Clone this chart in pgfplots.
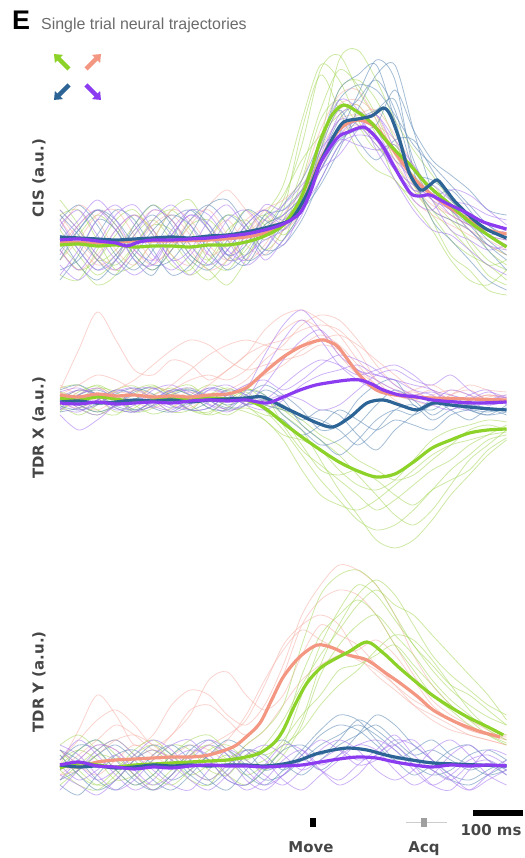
\documentclass[border=0pt]{standalone}
\usepackage{pgfplots}
\pgfplotsset{compat=1.18}
\usepackage{pgfplotstable}
\usetikzlibrary{arrows.meta}
\usepackage{fontspec}
\setmainfont{DejaVu Sans}
\newfontfamily\lib{Liberation Sans}
\definecolor{cg}{RGB}{140,210,40}
\definecolor{ck}{RGB}{243,150,130}
\definecolor{cb}{RGB}{45,100,150}
\definecolor{cp}{RGB}{140,60,240}
\definecolor{fg}{RGB}{165,215,90}
\definecolor{fk}{RGB}{245,175,165}
\definecolor{fb}{RGB}{90,135,180}
\definecolor{fp}{RGB}{165,115,240}
\definecolor{lab}{RGB}{70,70,70}
\pgfplotsset{
  faint/.style={smooth, line width=0.8bp, opacity=0.55, forget plot},
  mean/.style={smooth, line width=3.2bp, forget plot},
  panel/.style={scale only axis, width=447bp, xmin=0, xmax=961, hide axis, clip=false, anchor=south west}
}
% ---------------- CIS ----------------
\pgfplotstableread{
t a b c d e f g h
0 -20 10 -35 25 -5 40 30 -10
40 5 -15 -40 30 -25 15 10 -30
80 25 -35 -10 0 -45 -20 -15 -20
120 10 -20 20 -30 -35 -10 -25 5
160 -15 5 30 -25 -5 15 -5 25
200 -30 20 5 0 15 35 20 10
240 -10 0 -25 30 10 20 30 -15
280 15 -25 -30 40 -15 -5 10 -35
320 20 -40 0 10 -30 -20 -20 -20
360 0 -20 25 -20 -45 5 -30 10
400 -15 10 15 -10 -20 30 -5 20
440 10 25 -10 20 15 15 25 0
480 40 5 10 45 30 0 55 20
520 95 30 60 80 110 50 120 70
560 170 90 120 105 165 100 175 130
600 185 150 140 125 130 180 160 170
640 150 160 115 135 90 190 120 155
680 120 140 90 105 70 160 95 125
720 80 100 95 60 60 120 75 85
760 70 55 60 45 35 90 50 65
800 40 30 20 55 10 65 25 45
840 20 10 -15 30 -20 40 0 30
880 0 -10 -30 -5 -40 20 -15 10
920 -20 -35 -50 -25 -45 -10 -25 -5
960 -30 -45 -55 -20 -30 -25 -40 -15
}\cisG
\pgfplotstableread{
t a b c d e f g h
0 15 -30 20 -10 5 -40 25 -20
40 -10 -20 35 10 -25 -15 5 10
80 -30 5 15 30 -40 20 -20 30
120 -15 30 -15 20 -20 10 -35 15
160 10 20 -30 -5 15 -20 -15 -15
200 25 -10 -10 -25 35 -35 10 -30
240 5 -35 20 -20 15 0 25 -10
280 -20 -25 30 5 -15 30 15 20
320 -30 5 10 35 -25 15 -10 35
360 -10 25 -15 40 0 -15 -30 15
400 15 10 -25 15 30 -5 -15 -20
440 30 -15 5 -10 20 25 15 -10
480 20 0 35 -5 10 30 25 15
520 40 30 60 20 35 50 45 30
560 80 70 100 60 90 70 95 55
600 120 100 150 95 130 105 140 90
640 140 110 165 120 100 145 155 130
680 160 115 175 130 80 180 150 165
720 130 150 120 140 100 160 125 175
760 70 110 60 80 100 70 95 110
800 60 80 30 45 70 20 75 50
840 45 65 20 50 40 0 55 30
880 20 50 10 30 25 -20 35 15
920 0 30 -10 5 15 -40 15 -5
960 -15 25 -30 -5 0 -50 5 -20
}\cisB
\pgfplotstableread{
t a b c d e f g h
0 0 -25 30 -10 15 -35 20 -15
40 20 -40 10 -30 30 -10 -10 15
80 40 -20 -15 -5 5 20 -30 30
120 20 10 -30 25 -20 35 -20 10
160 -10 25 -10 35 -35 15 5 -20
200 -20 5 20 10 -20 -15 30 -25
240 5 -20 35 -20 10 -30 20 5
280 25 -35 15 -10 30 -15 -5 25
320 15 -10 -15 20 25 5 -25 10
360 -10 20 -25 35 0 -15 -10 -20
400 -20 30 0 10 -25 5 15 -15
440 10 10 20 -20 -10 35 30 0
480 25 -5 35 0 20 30 15 10
520 45 30 55 25 40 50 35 35
560 90 60 80 75 70 100 70 85
600 110 95 125 100 85 140 105 120
640 120 105 130 95 110 130 120 115
680 100 100 110 90 125 90 125 95
720 70 80 75 95 90 60 100 70
760 50 60 40 70 50 30 75 55
800 45 40 30 40 55 10 50 45
840 30 30 50 10 40 5 35 25
880 25 10 45 0 35 -10 20 15
920 15 -5 30 -10 25 -25 5 5
960 10 -10 15 -5 20 -35 0 10
}\cisP
\pgfplotstableread{
t a b c d e f
0 10 -20 20 -10 -5 25
40 35 0 -5 -30 15 0
80 20 25 -25 -15 30 -20
120 -10 30 -15 10 15 -30
160 -25 5 10 25 -10 -10
200 0 -20 30 10 -25 15
240 30 -10 20 -15 -5 25
280 20 15 -10 -25 20 5
320 -5 35 -30 0 30 -15
360 -20 50 -20 20 5 -5
400 5 30 5 -5 -20 20
440 30 10 20 -15 -5 30
480 40 20 15 10 25 10
520 60 40 45 35 50 30
560 110 90 80 100 95 70
600 145 120 105 135 130 110
640 150 125 115 140 135 125
680 120 115 100 125 110 130
720 80 100 70 90 85 105
760 50 70 40 60 55 75
800 30 50 25 40 35 45
840 20 35 15 25 25 30
880 10 20 5 15 15 20
920 0 5 -5 10 5 10
960 -10 0 -15 5 -5 0
}\cisK
% ---------------- TDR X ----------------
\pgfplotstableread{
t a b c d e f g h
0 5 -10 12 -5 8 -12 -5 8
40 -8 0 15 -15 2 5 8 -4
80 -15 12 2 -5 -10 15 14 -12
120 -5 8 -12 10 -15 5 2 -6
160 10 -5 -8 14 0 -10 -12 6
200 15 -14 5 0 12 -5 -8 14
240 3 -8 12 -12 8 10 6 4
280 -10 5 4 -10 -5 15 12 -10
320 -12 15 -8 5 -15 0 4 -14
360 0 10 -15 12 -8 -10 -6 2
400 8 -5 -5 3 10 -8 -12 12
440 -10 -20 0 -5 5 -15 -20 0
480 -30 -35 -15 -10 -25 -20 -40 -10
520 -55 -40 -30 -20 -50 -45 -70 -25
560 -80 -50 -60 -35 -65 -70 -95 -40
600 -100 -70 -90 -45 -80 -75 -105 -55
640 -120 -85 -115 -60 -95 -70 -110 -75
680 -130 -90 -140 -70 -110 -80 -100 -95
720 -125 -80 -148 -80 -100 -95 -85 -115
760 -110 -60 -140 -75 -85 -105 -70 -125
800 -90 -40 -120 -60 -70 -90 -55 -110
840 -70 -30 -95 -45 -60 -80 -45 -85
880 -55 -25 -75 -30 -45 -70 -40 -60
920 -40 -20 -55 -25 -35 -50 -35 -45
960 -35 -22 -40 -30 -25 -38 -32 -30
}\txG
\pgfplotstableread{
t a b c d e f g
0 10 0 8 15 -5 5 -3
40 50 10 -5 5 5 15 -8
80 88 5 -10 0 12 25 0
120 60 -5 0 10 5 20 8
160 30 0 10 20 -2 10 5
200 25 12 5 35 -8 5 0
240 40 8 -5 50 0 15 10
280 35 3 -8 60 8 30 20
320 20 15 5 55 3 45 25
360 30 30 10 40 5 55 20
400 45 45 20 30 15 60 30
440 55 70 40 35 25 55 50
480 60 85 55 40 35 50 70
520 70 90 75 45 50 55 80
560 75 80 85 55 60 65 70
600 70 65 80 50 65 55 45
640 50 40 60 30 55 35 25
680 20 20 35 15 40 15 10
720 5 10 15 0 25 5 5
760 10 0 5 -10 10 0 8
800 15 -5 10 -5 0 5 0
840 5 5 0 5 -5 10 -5
880 0 10 -5 15 0 5 0
920 5 0 3 10 5 0 5
960 2 -3 5 8 0 3 2
}\txK
\pgfplotstableread{
t a b c d e f g
0 -10 5 -15 8 0 3 -8
40 5 -8 -30 12 -10 10 -12
80 12 -15 -20 2 -5 5 0
120 0 -5 -5 -10 8 -8 10
160 -12 10 5 -5 12 -12 6
200 -5 12 0 10 0 0 -6
240 8 0 -8 15 -12 10 -10
280 12 -10 -3 5 -5 8 2
320 0 -8 10 -5 10 -4 12
360 -10 5 5 -12 15 -8 6
400 -5 15 -5 0 5 10 -4
440 15 20 -10 30 0 45 0
480 40 10 0 60 5 75 15
520 60 20 15 80 0 90 30
560 70 35 25 60 -10 70 40
600 50 45 30 35 -5 45 35
640 30 40 35 20 10 30 25
680 25 30 25 10 25 20 30
720 20 15 20 5 30 10 35
760 10 5 15 0 20 5 25
800 5 0 10 -5 15 8 10
840 -5 10 -5 -10 25 0 5
880 5 5 -10 0 10 -5 0
920 10 -5 0 8 0 0 -5
960 -5 0 5 2 -3 3 -2
}\txP
\pgfplotstableread{
t a b c d e f
0 5 -8 10 -12 0 -6
40 -5 5 15 -8 10 -10
80 -12 10 5 0 6 -4
120 -5 2 -8 10 -6 6
160 8 -10 -12 5 -10 12
200 12 -6 0 -8 -2 6
240 2 5 10 -12 8 -6
280 -10 10 5 0 10 -10
320 -8 3 -8 12 0 -2
360 5 -5 -10 8 -8 10
400 10 0 5 -5 -5 5
440 5 -5 15 0 10 -10
480 -15 -10 5 -5 0 -20
520 -30 -15 -10 -20 -25 -35
560 -45 -20 -30 -10 -40 -25
600 -40 -30 -25 -15 -55 -10
640 -25 -45 0 -35 -40 -20
680 -5 -30 15 -50 -20 -30
720 10 -10 20 -30 -10 -20
760 0 -5 -5 -15 -15 -25
800 -15 -20 -10 0 -5 -30
840 -5 -10 0 -10 0 -15
880 -10 -5 -10 -20 -5 -10
920 -15 -8 -15 -10 -10 -12
960 -12 -10 -5 -15 -8 -8
}\txB
% ---------------- TDR Y ----------------
\pgfplotstableread{
t a b c d e f g h
0 10 -15 20 -5 5 -20 0 15
40 -10 0 30 -20 15 -5 15 -5
80 -20 15 15 -25 5 10 25 -20
120 -5 25 -5 -10 -15 5 10 -15
160 15 10 -20 10 -10 -10 -10 5
200 25 -10 -10 20 5 -25 -20 15
240 10 -20 10 5 20 -10 -5 0
280 -5 -5 25 -10 15 10 10 -15
320 -15 15 30 0 -5 20 5 -20
360 0 20 15 10 -10 5 -10 5
400 20 5 5 0 10 -10 -20 15
440 35 -5 20 5 15 0 -5 10
480 60 10 45 25 35 15 20 20
520 120 40 80 50 90 45 70 35
560 170 90 110 70 130 100 120 60
600 190 120 135 95 150 140 155 80
640 195 140 160 100 165 170 180 95
680 180 150 175 110 150 185 170 115
720 150 130 160 120 120 170 145 130
760 120 110 150 100 95 140 120 125
800 100 85 130 80 70 110 95 105
840 80 65 110 60 55 90 75 80
880 70 50 90 45 40 75 60 55
920 55 35 70 30 30 60 48 38
960 40 25 45 20 22 50 40 30
}\tyG
\pgfplotstableread{
t a b c d e f
0 0 -10 15 -5 5 -10
40 35 5 0 10 25 -5
80 70 20 -10 25 45 10
120 50 15 5 40 55 25
160 20 0 20 30 40 30
200 30 10 10 15 20 20
240 60 30 0 10 30 5
280 75 50 10 20 55 0
320 70 85 20 15 60 10
360 50 93 30 5 45 25
400 40 70 45 20 30 50
440 60 55 80 35 50 85
480 100 70 120 60 90 115
520 150 110 140 85 140 135
560 180 140 150 100 165 125
600 200 130 140 110 175 115
640 195 120 110 115 170 105
680 180 100 90 125 150 95
720 150 80 75 110 120 80
760 110 60 60 85 90 65
800 80 45 50 60 65 55
840 60 35 40 45 50 45
880 45 30 30 35 40 35
920 35 25 25 30 30 30
960 25 20 20 30 25 28
}\tyK
\pgfplotstableread{
t a b c d e f
0 10 -15 5 -20 -5 15
40 -10 -5 20 -30 15 5
80 -25 10 15 -10 25 -15
120 -15 20 -5 10 5 -25
160 5 5 -20 15 -15 -10
200 20 -15 -10 0 -25 10
240 10 -25 10 -15 -10 20
280 -10 -10 20 -5 15 5
320 -20 10 5 10 25 -15
360 -5 15 -15 25 10 -25
400 15 0 -20 15 -10 -5
440 10 -15 -5 -5 -20 15
480 -5 -10 15 0 -5 25
520 10 5 20 -10 15 10
560 30 20 10 5 35 -5
600 40 30 25 20 50 10
640 35 40 45 30 45 30
680 20 30 35 40 25 50
720 5 15 20 25 5 40
760 15 0 5 10 -10 20
800 25 -10 -5 15 0 5
840 10 -5 -15 5 15 -10
880 0 10 -20 -5 20 -15
920 -10 15 -10 0 5 -5
960 -5 5 0 -10 -5 5
}\tyB
\pgfplotstableread{
t a b c d e f g
0 5 -10 15 -25 0 -15 20
40 25 -20 0 -5 -15 5 10
80 10 -30 -15 15 -5 20 -10
120 -10 -15 -5 25 10 15 -25
160 -25 5 10 10 -10 -5 -15
200 -15 15 25 -5 -25 -20 5
240 5 5 15 -20 -15 -10 20
280 15 -15 -5 -25 5 10 25
320 10 -25 -15 -5 20 25 5
360 -10 -10 0 15 10 15 -15
400 -25 10 15 5 -15 -5 -20
440 -15 20 5 -10 -25 -20 0
480 5 10 -15 -20 -10 -10 20
520 15 -5 -25 -5 5 10 15
560 0 5 -10 15 -5 25 -5
600 10 15 5 25 -15 15 -20
640 20 5 20 15 0 0 -10
680 25 10 15 -5 15 5 10
720 15 25 -5 -15 30 20 20
760 -5 20 -20 -5 10 25 0
800 -20 5 -10 15 -5 5 -20
840 -10 -10 10 25 -15 -15 -25
880 5 -25 20 10 0 -25 -5
920 10 -15 5 -10 5 -10 15
960 0 -5 -10 -20 -5 5 10
}\tyP
\begin{document}
\begin{tikzpicture}
\path[use as bounding box] (0,0) rectangle (525bp,858bp);
% ---------- CIS panel ----------
\begin{axis}[panel, at={(60bp,558bp)}, height=255bp, ymin=-60, ymax=195]
\pgfplotsinvokeforeach{a,b,c,d,e,f,g,h}{\addplot[faint, fg] table[x=t,y=#1]{\cisG};}
\pgfplotsinvokeforeach{a,b,c,d,e,f}{\addplot[faint, fk] table[x=t,y=#1]{\cisK};}
\pgfplotsinvokeforeach{a,b,c,d,e,f,g,h}{\addplot[faint, fb] table[x=t,y=#1]{\cisB};}
\pgfplotsinvokeforeach{a,b,c,d,e,f,g,h}{\addplot[faint, fp] table[x=t,y=#1]{\cisP};}
\addplot[mean, ck] coordinates {(0,-2)(80,-3)(160,-1)(240,-1)(320,0)(400,3)(440,7)(480,15)(520,35)(560,80)(600,110)(640,120)(680,112)(720,88)(760,62)(800,45)(840,32)(880,20)(920,10)(960,6)};
\addplot[mean, cg] coordinates {(0,-5)(40,-4)(80,-6)(120,-5)(160,-7)(200,-6)(240,-6)(280,-7)(320,-5)(360,-5)(400,-2)(440,4)(480,15)(516,40)(540,70)(560,100)(585,125)(610,135)(640,128)(670,117)(700,100)(730,85)(753,75)(780,60)(802,50)(840,35)(875,20)(920,5)(960,-7)};
\addplot[mean, cb] coordinates {(0,3)(40,2)(80,1)(120,0)(160,1)(200,2)(240,3)(280,2)(320,4)(360,5)(400,8)(440,12)(480,17)(500,22)(530,45)(560,78)(590,105)(610,118)(640,121)(670,124)(695,132)(710,125)(730,100)(750,68)(775,50)(795,55)(811,60)(830,50)(850,38)(890,20)(920,10)(960,2)};
\addplot[mean, cp] coordinates {(0,0)(40,1)(80,-1)(120,-3)(144,-6)(170,-2)(200,0)(240,0)(280,1)(320,2)(360,4)(400,6)(440,10)(480,16)(516,27)(540,50)(560,77)(596,102)(620,108)(652,113)(675,105)(695,93)(720,72)(753,47)(775,44)(796,45)(830,37)(875,27)(910,18)(960,11)};
\end{axis}
% ---------- TDR X panel ----------
\begin{axis}[panel, at={(60bp,303bp)}, height=255bp, ymin=-155, ymax=100]
\pgfplotsinvokeforeach{a,b,c,d,e,f,g,h}{\addplot[faint, fg] table[x=t,y=#1]{\txG};}
\pgfplotsinvokeforeach{a,b,c,d,e,f,g}{\addplot[faint, fk] table[x=t,y=#1]{\txK};}
\pgfplotsinvokeforeach{a,b,c,d,e,f}{\addplot[faint, fb] table[x=t,y=#1]{\txB};}
\pgfplotsinvokeforeach{a,b,c,d,e,f,g}{\addplot[faint, fp] table[x=t,y=#1]{\txP};}
\addplot[mean, cg] coordinates {(0,2)(40,0)(80,3)(120,1)(160,-2)(200,0)(240,2)(280,0)(320,2)(360,1)(400,0)(440,-8)(480,-23)(520,-37)(560,-50)(600,-62)(640,-71)(680,-77)(720,-74)(760,-62)(800,-48)(840,-40)(880,-33)(920,-30)(960,-29)};
\addplot[mean, ck] coordinates {(0,5)(40,3)(80,6)(120,4)(160,5)(200,3)(240,4)(280,3)(320,5)(360,6)(400,12)(440,28)(480,43)(520,54)(560,60)(580,58)(600,52)(640,27)(680,10)(720,5)(760,3)(800,2)(880,1)(960,0)};
\addplot[mean, cb] coordinates {(0,-2)(40,-1)(80,-3)(120,-2)(160,0)(200,-1)(240,0)(280,-2)(320,0)(360,1)(400,2)(436,3)(480,-7)(516,-15)(553,-23)(587,-27)(624,-17)(660,-3)(695,0)(730,-5)(768,-10)(802,-3)(840,-5)(900,-8)(960,-10)};
\addplot[mean, cp] coordinates {(0,-3)(40,-4)(80,-2)(120,-4)(160,-3)(200,-2)(240,-3)(280,-1)(320,0)(360,-1)(400,0)(445,-3)(480,3)(516,10)(550,15)(587,18)(620,20)(645,20)(670,16)(695,10)(730,5)(768,3)(800,0)(850,-2)(900,-3)(960,-2)};
\end{axis}
% ---------- TDR Y panel ----------
\begin{axis}[panel, at={(60bp,58bp)}, height=245bp, ymin=-35, ymax=210]
\pgfplotsinvokeforeach{a,b,c,d,e,f}{\addplot[faint, fk] table[x=t,y=#1]{\tyK};}
\pgfplotsinvokeforeach{a,b,c,d,e,f,g,h}{\addplot[faint, fg] table[x=t,y=#1]{\tyG};}
\pgfplotsinvokeforeach{a,b,c,d,e,f}{\addplot[faint, fb] table[x=t,y=#1]{\tyB};}
\pgfplotsinvokeforeach{a,b,c,d,e,f,g}{\addplot[faint, fp] table[x=t,y=#1]{\tyP};}
\addplot[mean, ck] coordinates {(0,0)(40,-2)(80,3)(120,5)(160,6)(200,7)(240,8)(280,8)(320,10)(372,18)(400,28)(430,42)(455,65)(480,88)(515,108)(553,120)(587,117)(620,110)(660,105)(700,92)(731,82)(770,68)(802,55)(850,43)(900,34)(946,28)};
\addplot[mean, cg] coordinates {(0,-3)(40,2)(80,0)(120,-2)(160,0)(200,1)(240,2)(280,3)(320,4)(360,5)(400,8)(430,12)(460,22)(480,35)(505,60)(531,82)(560,97)(587,105)(620,113)(660,123)(695,112)(730,97)(768,82)(800,70)(839,58)(880,47)(920,38)(953,30)};
\addplot[mean, cb] coordinates {(0,0)(40,-2)(80,-1)(120,-3)(160,-2)(200,0)(240,-1)(280,0)(320,-1)(360,0)(400,0)(440,-1)(480,1)(516,5)(550,11)(587,15)(620,17)(660,15)(700,10)(731,7)(770,4)(802,2)(850,1)(900,0)(960,-1)};
\addplot[mean, cp] coordinates {(0,0)(40,3)(80,-1)(120,-2)(160,-4)(200,-2)(240,-3)(280,-1)(320,0)(360,-1)(400,-1)(440,-2)(480,-1)(520,0)(560,3)(600,6)(640,8)(680,7)(720,3)(760,0)(800,-2)(840,0)(880,-1)(920,0)(960,-1)};
\end{axis}
% ---------- titles and labels ----------
\node[anchor=base west, inner sep=0, font=\lib\bfseries\fontsize{27}{27}\selectfont] at (12bp,828bp) {E};
\node[anchor=base west, inner sep=0, text=black!58, font=\lib\fontsize{16}{16}\selectfont] at (41bp,828bp) {Single trial neural trajectories};
\draw[cg, line width=4.5bp, -{Triangle[length=7bp,width=11bp]}] (69bp,789bp) -- (54bp,804bp);
\draw[ck, line width=4.5bp, -{Triangle[length=7bp,width=11bp]}] (86bp,789bp) -- (101bp,804bp);
\draw[cb, line width=4.5bp, -{Triangle[length=7bp,width=11bp]}] (69bp,773bp) -- (54bp,758bp);
\draw[cp, line width=4.5bp, -{Triangle[length=7bp,width=11bp]}] (86bp,773bp) -- (101bp,758bp);
\node[rotate=90, text=lab, font=\bfseries\fontsize{15}{15}\selectfont] at (39bp,680bp) {CIS (a.u.)};
\node[rotate=90, text=lab, font=\bfseries\fontsize{15}{15}\selectfont] at (39bp,430bp) {TDR X (a.u.)};
\node[rotate=90, text=lab, font=\bfseries\fontsize{15}{15}\selectfont] at (39bp,176bp) {TDR Y (a.u.)};
% ---------- event markers and scale bar ----------
\fill[black] (310bp,31bp) rectangle (316bp,40bp);
\node[anchor=base, inner sep=0, text=lab, font=\bfseries\fontsize{15}{15}\selectfont] at (311bp,6bp) {Move};
\draw[gray!40, line width=1.5bp] (406bp,35.5bp) -- (447bp,35.5bp);
\fill[gray!75] (421bp,31bp) rectangle (427bp,40bp);
\node[anchor=base, inner sep=0, text=lab, font=\bfseries\fontsize{15}{15}\selectfont] at (424bp,6bp) {Acq};
\draw[black, line width=6bp] (473bp,44.5bp) -- (523bp,44.5bp);
\node[anchor=base, inner sep=0, text=lab, font=\bfseries\fontsize{15}{15}\selectfont] at (491bp,23bp) {100 ms};
\end{tikzpicture}
\end{document}
